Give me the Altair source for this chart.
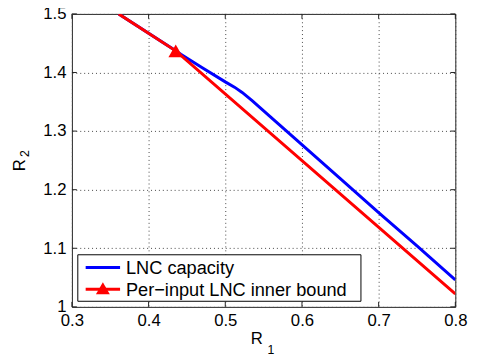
import altair as alt
import pandas as pd

# Data
cap_r1 = [0.361, 0.4354, 0.442, 0.470, 0.500, 0.512, 0.522, 0.535, 0.560, 0.591, 0.650, 0.700, 0.750, 0.800]
cap_r2 = [1.500, 1.437, 1.431, 1.408, 1.384, 1.375, 1.366, 1.352, 1.323, 1.287, 1.219, 1.161, 1.104, 1.046]
inner_r1 = [0.361, 0.4354, 0.800]
inner_r2 = [1.500, 1.437, 1.022]
marker_r1 = [0.4354]
marker_r2 = [1.437]
x_ticks = [0.3, 0.4, 0.5, 0.6, 0.7, 0.8]
y_ticks = [1.0, 1.1, 1.2, 1.3, 1.4, 1.5]
legend_labels = ["LNC capacity", "Per\u2212input LNC inner bound"]

W, H = 390, 298
FONT = "Liberation Sans"
BLUE = "#0000ff"
RED = "#ff0000"

xs = alt.Scale(domain=[0.3, 0.8], nice=False, zero=False)
ys = alt.Scale(domain=[1.0, 1.5], nice=False, zero=False)

cap_df = pd.DataFrame({"r1": cap_r1, "r2": cap_r2})
inner_df = pd.DataFrame({"r1": inner_r1, "r2": inner_r2})
marker_df = pd.DataFrame({"r1": marker_r1, "r2": marker_r2})
xt_df = pd.DataFrame({"v": x_ticks})
yt_df = pd.DataFrame({"v": y_ticks})

x_axis = alt.Axis(values=x_ticks, format="~g", tickSize=0, domain=False, grid=True,
                  gridDash=[1, 3], gridColor="#444", gridWidth=1, labelFontSize=17,
                  labelFont=FONT, labelColor="#000", labelPadding=6, title=None,
                  labelFlush=False)
y_axis = alt.Axis(values=y_ticks, format="~g", tickSize=0, domain=False, grid=True,
                  gridDash=[1, 3], gridColor="#444", gridWidth=1, labelFontSize=17,
                  labelFont=FONT, labelColor="#000", labelPadding=6, title=None,
                  labelFlush=False)

base_axes = alt.Chart(xt_df).mark_point(opacity=0).encode(
    x=alt.X("v:Q", scale=xs, axis=x_axis),
    y=alt.Y("v:Q", scale=ys, axis=y_axis),
)

cap_line = alt.Chart(cap_df).mark_line(color=BLUE, strokeWidth=3, clip=True).encode(
    x=alt.X("r1:Q", scale=xs), y=alt.Y("r2:Q", scale=ys), order="r1:Q")
inner_line = alt.Chart(inner_df).mark_line(color=RED, strokeWidth=3, clip=True).encode(
    x=alt.X("r1:Q", scale=xs), y=alt.Y("r2:Q", scale=ys), order="r1:Q")
marker = alt.Chart(marker_df).mark_point(shape="triangle-up", filled=True, color=RED,
                                         size=220, opacity=1).encode(
    x=alt.X("r1:Q", scale=xs), y=alt.Y("r2:Q", scale=ys))

TL = 5
tick_col = "#222"
xt_bottom = alt.Chart(xt_df).mark_rule(color=tick_col, strokeWidth=1).encode(
    x=alt.X("v:Q", scale=xs), y=alt.value(H), y2=alt.value(H - TL))
xt_top = alt.Chart(xt_df).mark_rule(color=tick_col, strokeWidth=1).encode(
    x=alt.X("v:Q", scale=xs), y=alt.value(0), y2=alt.value(TL))
yt_left = alt.Chart(yt_df).mark_rule(color=tick_col, strokeWidth=1).encode(
    y=alt.Y("v:Q", scale=ys), x=alt.value(0), x2=alt.value(TL))
yt_right = alt.Chart(yt_df).mark_rule(color=tick_col, strokeWidth=1).encode(
    y=alt.Y("v:Q", scale=ys), x=alt.value(W), x2=alt.value(W - TL))

# Axis titles with subscripts
tx_R = alt.Chart(xt_df.head(1)).mark_text(text="R", fontSize=17, font=FONT, align="left",
                                          baseline="alphabetic", color="#000").encode(
    x=alt.value(182), y=alt.value(336))
tx_1 = alt.Chart(xt_df.head(1)).mark_text(text="1", fontSize=12.5, font=FONT, align="left",
                                          baseline="alphabetic", color="#000").encode(
    x=alt.value(199), y=alt.value(346))
ty_R = alt.Chart(xt_df.head(1)).mark_text(text="R", fontSize=17, font=FONT, align="left",
                                          baseline="alphabetic", angle=270, color="#000").encode(
    x=alt.value(-47.5), y=alt.value(160))
ty_2 = alt.Chart(xt_df.head(1)).mark_text(text="2", fontSize=12.5, font=FONT, align="left",
                                          baseline="alphabetic", angle=270, color="#000").encode(
    x=alt.value(-44), y=alt.value(145.5))

# Legend
leg_box = alt.Chart(xt_df.head(1)).mark_rect(fill="white", stroke="#000", strokeWidth=1).encode(
    x=alt.value(6), x2=alt.value(294), y=alt.value(245), y2=alt.value(292.3))
leg_l1 = alt.Chart(xt_df.head(1)).mark_rule(color=BLUE, strokeWidth=3).encode(
    x=alt.value(14), x2=alt.value(49), y=alt.value(258))
leg_l2 = alt.Chart(xt_df.head(1)).mark_rule(color=RED, strokeWidth=3).encode(
    x=alt.value(14), x2=alt.value(49), y=alt.value(280))
leg_m2 = alt.Chart(xt_df.head(1)).mark_point(shape="triangle-up", filled=True, color=RED,
                                             size=200, opacity=1).encode(
    x=alt.value(31.5), y=alt.value(279))
leg_t1 = alt.Chart(xt_df.head(1)).mark_text(text=legend_labels[0], fontSize=18.5, font=FONT,
                                            align="left", baseline="middle", color="#000").encode(
    x=alt.value(55), y=alt.value(259))
leg_t2 = alt.Chart(xt_df.head(1)).mark_text(text=legend_labels[1], fontSize=18.5, font=FONT,
                                            align="left", baseline="middle", color="#000").encode(
    x=alt.value(55), y=alt.value(280.5))

chart = alt.layer(
    base_axes, cap_line, inner_line, marker,
    xt_bottom, xt_top, yt_left, yt_right,
    tx_R, tx_1, ty_R, ty_2,
    leg_box, leg_l1, leg_l2, leg_m2, leg_t1, leg_t2,
).properties(
    width=W, height=H,
    autosize=alt.AutoSizeParams(type="none"),
    padding={"left": 65, "top": 3, "right": 19, "bottom": 49},
    background="white",
).configure_view(stroke="#222", strokeWidth=1)

chart.save("out.html", embed_options={"renderer": "svg", "actions": False})
